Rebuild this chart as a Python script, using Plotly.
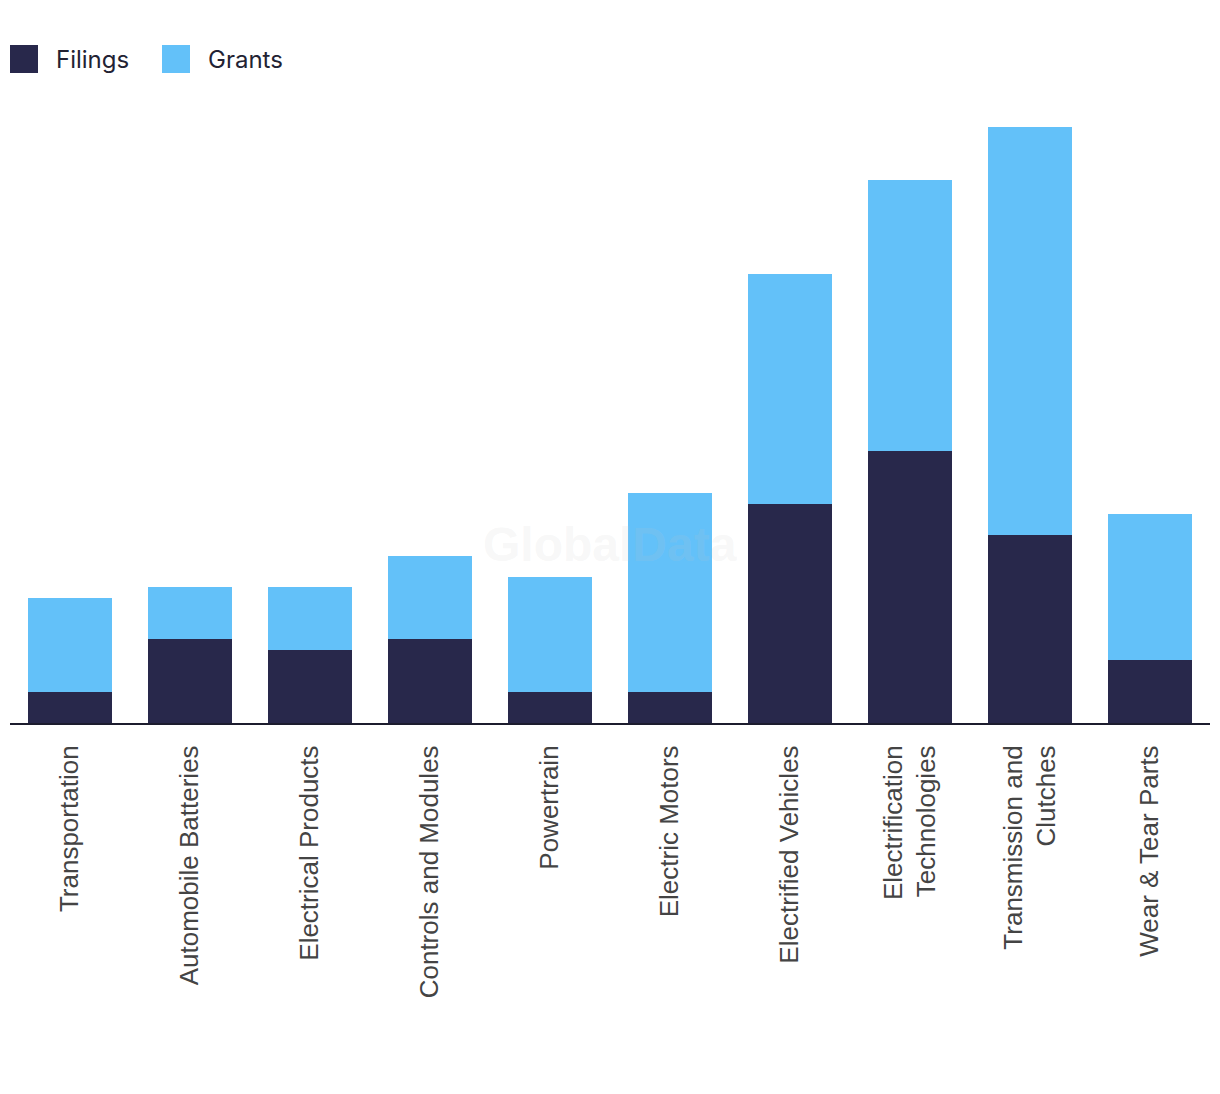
import plotly.graph_objects as go

categories = ["Transportation", "Automobile Batteries", "Electrical Products",
              "Controls and Modules", "Powertrain", "Electric Motors",
              "Electrified Vehicles", "Electrification<br>Technologies",
              "Transmission and<br>Clutches", "Wear & Tear Parts"]
filings = [3, 8, 7, 8, 3, 3, 21, 26, 18, 6]
grants = [9, 5, 6, 8, 11, 19, 22, 26, 39, 14]
series_names = ["Filings", "Grants"]
series_colors = ["#28284b", "#63c1f9"]

fig = go.Figure()
fig.add_trace(go.Bar(x=categories, y=filings, name=series_names[0],
                     marker=dict(color=series_colors[0], line=dict(width=0)),
                     showlegend=False))
fig.add_trace(go.Bar(x=categories, y=grants, name=series_names[1],
                     marker=dict(color=series_colors[1], line=dict(width=0)),
                     showlegend=False))

# manual legend (large square swatches), positions in paper fractions
PW, PH = 1200, 627
legend_x = [10, 162]
for i, (nm, col) in enumerate(zip(series_names, series_colors)):
    fig.add_shape(type="rect", xref="paper", yref="paper",
                  x0=(legend_x[i] - 10) / PW, x1=(legend_x[i] + 18) / PW,
                  y0=(723 - 73) / PH, y1=(723 - 45) / PH,
                  fillcolor=col, line=dict(width=0))
    fig.add_annotation(text=nm, xref="paper", yref="paper",
                       x=(legend_x[i] + 34) / PW, y=(723 - 59) / PH,
                       xanchor="left", yanchor="middle", showarrow=False,
                       font=dict(family="Inter", size=24, color="#222233"))

fig.add_annotation(text="<b>GlobalData</b>", xref="paper", yref="paper",
                   x=0.5, y=(723 - 573) / PH, showarrow=False,
                   font=dict(family="Liberation Sans", size=48,
                             color="rgba(200,200,200,0.15)"))

fig.update_layout(
    barmode="stack", bargap=0.3,
    width=1220, height=1094,
    margin=dict(l=2, r=18, t=88, b=379),
    plot_bgcolor="white", paper_bgcolor="white",
    xaxis=dict(tickangle=-90, showline=True, linecolor="#1c1c2e", linewidth=2,
               ticks="", ticklabelstandoff=10,
               tickfont=dict(family="Liberation Sans", size=26, color="#444444"),
               showgrid=False, zeroline=False),
    yaxis=dict(range=[0, 60], visible=False, showgrid=False, zeroline=False),
)

fig.write_html("out.html")
